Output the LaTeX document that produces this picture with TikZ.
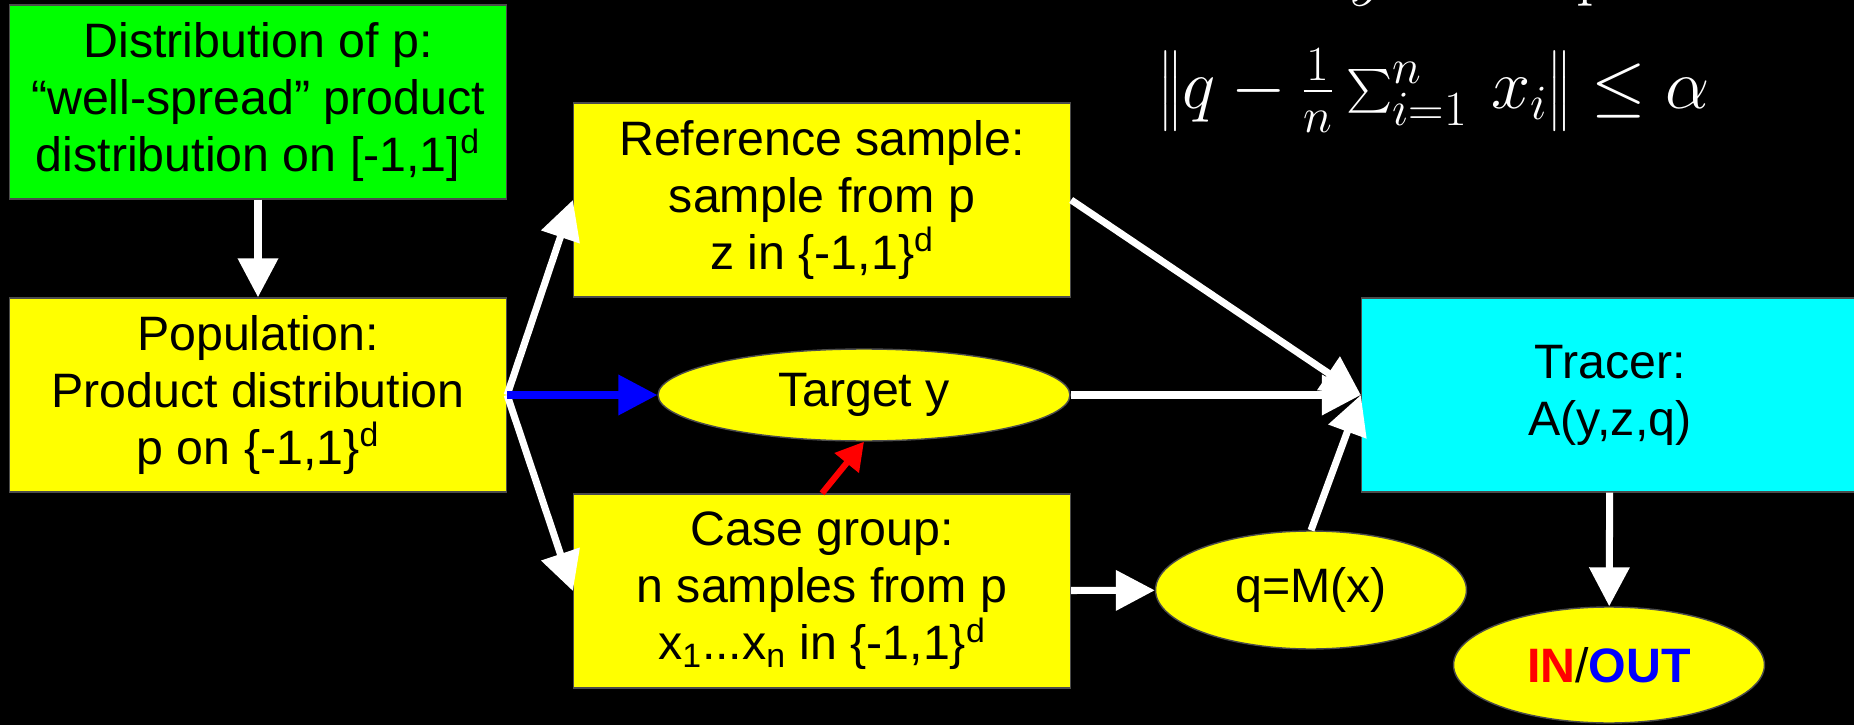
\RequirePackage{fix-cm}
\documentclass[tikz,border=0pt]{standalone}
\usepackage[no-math]{fontspec}
\setmainfont{Liberation Sans}
\usepackage{amsmath}
\usetikzlibrary{positioning, arrows.meta, shapes.geometric}

\definecolor{boxgreen}{RGB}{0,255,0}
\definecolor{boxyellow}{RGB}{255,255,0}
\definecolor{boxcyan}{RGB}{0,255,255}
\definecolor{inred}{RGB}{255,0,0}
\definecolor{outblue}{RGB}{0,0,255}

\begin{document}
\begin{tikzpicture}[x=0.02cm, y=0.02cm,
    box/.style={draw=black!70, line width=0.8pt, minimum width=9.94cm, minimum height=3.88cm,
        align=center, font=\fontsize{27.5}{32.4}\selectfont},
    oval/.style={ellipse, draw=black!70, line width=0.8pt, fill=boxyellow, inner sep=0pt,
        font=\fontsize{27.5}{32.4}\selectfont},
    flow/.style={white, line width=4pt, -{Triangle[length=0.78cm, width=0.78cm]}},
    mathtext/.style={text=white, font=\fontsize{40}{48}\selectfont}]

    \fill[black] (0,0) rectangle (1854,725); % Sfondo
    \useasboundingbox (0,0) rectangle (1854,725);
    \clip (0,0) rectangle (1854,725);

    % Riquadri
    \node[box, fill=boxgreen] (distp) at (258,623) {Distribution of p:\\“well-spread” product\\distribution on [-1,1]\textsuperscript{d}};
    \node[box, fill=boxyellow] (popul) at (258,330) {Population:\\Product distribution\\p on \{-1,1\}\textsuperscript{d}};
    \node[box, fill=boxyellow] (refsample) at (822,525) {Reference sample:\\sample from p\\z in \{-1,1\}\textsuperscript{d}};
    \node[box, fill=boxyellow] (casegroup) at (822,134) {Case group:\\n samples from p\\x\textsubscript{1}...x\textsubscript{n} in \{-1,1\}\textsuperscript{d}};
    \node[box, fill=boxcyan] (tracer) at (1610,330) {Tracer:\\A(y,z,q)};

    % Ellissi
    \node[oval, minimum width=8.24cm, minimum height=1.84cm] (target) at (864,330) {Target y};
    \node[oval, minimum width=6.22cm, minimum height=2.36cm] (qmx) at (1311,135) {q=M(x)};
    \node[oval, minimum width=6.22cm, minimum height=2.32cm] (inout) at (1609,60) {\textbf{\color{inred}IN}/\textbf{\color{outblue}OUT}};

    % Formula in alto
    \node[mathtext] (bound) at (1434,634) {$\left\|q-\frac{1}{n}\sum_{i=1}^{n}\,x_i\right\|\leq\alpha$};
    \node[mathtext, anchor=base] (topy) at (1368,732) {$y$};
    \node[mathtext, anchor=base] (topp) at (1594,732) {$\mathrm{p}$};

    % Frecce
    \draw[flow] (distp) -- (popul);
    \draw[flow] (popul.east) -- (refsample.west);
    \draw[flow] (popul.east) -- (casegroup.west);
    \draw[flow, outblue] (popul.east) -- (target.west);
    \draw[flow] (refsample.east) -- (tracer.west);
    \draw[flow] (target.east) -- (tracer.west);
    \draw[flow] (casegroup) -- (qmx);
    \draw[flow] (qmx.north) -- (tracer.west);
    \draw[flow] (tracer) -- (inout);
    \draw[inred, line width=3.5pt, -{Triangle[length=0.55cm, width=0.6cm]}] (casegroup.north) -- (target.south);
\end{tikzpicture}
\end{document}
